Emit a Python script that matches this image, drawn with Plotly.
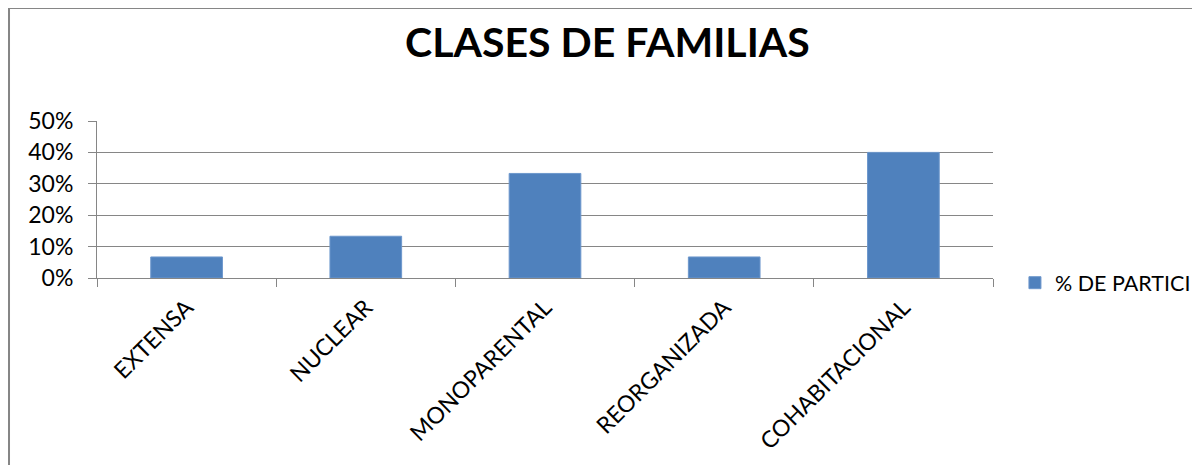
import plotly.graph_objects as go

categorias = ["EXTENSA", "NUCLEAR", "MONOPARENTAL", "REORGANIZADA", "COHABITACIONAL"]
participacion = [0.067, 0.133, 0.333, 0.067, 0.40]
serie = "% DE PARTICI"
titulo = "CLASES DE FAMILIAS"

GRIS = "#868686"
AZUL = "#4F81BD"
FUENTE = "Lato"

fig = go.Figure(
    go.Bar(
        x=categorias,
        y=participacion,
        name=serie,
        marker_color=AZUL,
        marker_line=dict(color="#6d97cc", width=1),
        showlegend=True,
    )
)

# la página añade 8 px de margen al cuerpo: la figura se reduce para caber en la ventana
fig.update_layout(
    width=1192,
    height=457,
    paper_bgcolor="white",
    plot_bgcolor="white",
    font=dict(family=FUENTE, size=23, color="black"),
    margin=dict(l=89, r=207, t=113, b=187, autoexpand=False),
    bargap=0.6,
    title=dict(
        text=f"<b>{titulo}</b>",
        font=dict(family=FUENTE, size=41, color="black"),
        xref="container",
        x=0.5029,
        xanchor="center",
        yref="container",
        y=0.9234,
        yanchor="middle",
    ),
    legend=dict(
        x=1.0245,
        y=-0.03,
        xanchor="left",
        yanchor="middle",
        font=dict(family=FUENTE, size=21.5),
        bgcolor="rgba(0,0,0,0)",
        borderwidth=0,
    ),
    shapes=[
        dict(
            type="rect",
            xref="paper",
            yref="paper",
            x0=-0.0982,
            x1=1.3,
            y0=-1.4,
            y1=1.7197,
            line=dict(color=GRIS, width=2),
            fillcolor="rgba(0,0,0,0)",
            layer="below",
        )
    ],
)

fig.update_yaxes(
    range=[0, 0.5],
    dtick=0.1,
    tickformat=".0%",
    showgrid=True,
    gridcolor=GRIS,
    gridwidth=1,
    showline=True,
    linecolor=GRIS,
    linewidth=1,
    ticks="outside",
    ticklen=8,
    tickcolor=GRIS,
    ticklabelstandoff=10,
    zeroline=False,
)

fig.update_xaxes(
    showline=True,
    linecolor=GRIS,
    linewidth=1,
    ticks="outside",
    ticklen=8,
    tickcolor=GRIS,
    tickson="boundaries",
    tickangle=-45,
    ticklabelstandoff=6,
)

fig.write_html("out.html")
